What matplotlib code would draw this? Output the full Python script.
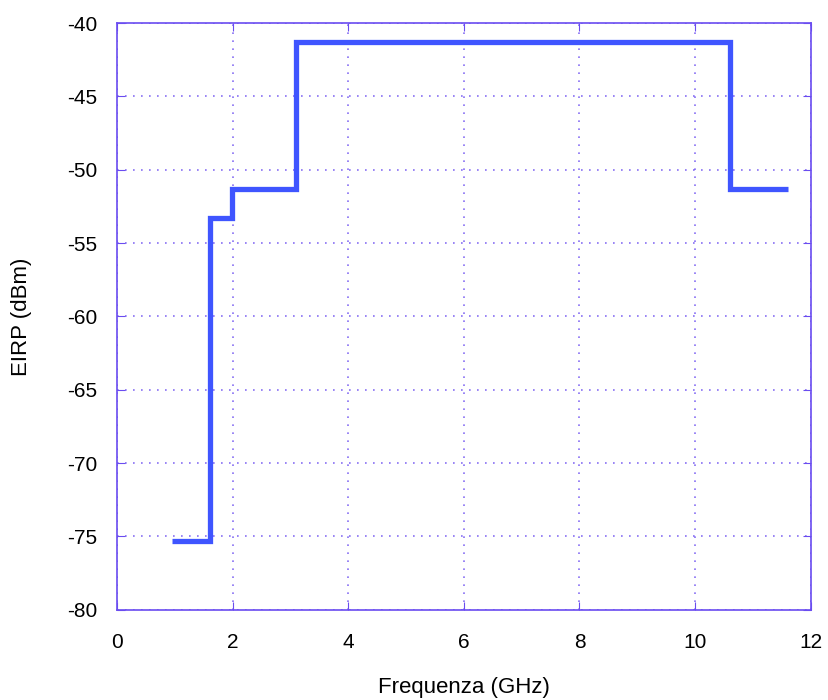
import numpy as np
import matplotlib
matplotlib.use("Agg")
import matplotlib.pyplot as plt

plt.rcParams['font.family'] = ['Liberation Sans', 'DejaVu Sans']
plt.rcParams['axes.unicode_minus'] = False

freq = [0.96, 1.61, 1.99, 3.1, 10.6, 11.6]
eirp = [-75.3, -53.3, -51.3, -41.3, -51.3, -51.3]

grid_col = "#6a4cf0"

fig = plt.figure(figsize=(8.29, 7.0), dpi=100)
ax = fig.add_axes([0.141, 0.129, 0.837, 0.838])
ax.plot(freq, eirp, drawstyle="steps-post", color="#3f55ff", lw=3.8,
        solid_joinstyle="miter", solid_capstyle="butt")
ax.set_xlim(0, 12)
ax.set_ylim(-80, -40)
ax.set_xticks(np.arange(0, 13, 2))
ax.set_yticks(np.arange(-80, -39, 5))
ax.grid(True, color=grid_col, linestyle=(0, (1, 3.8)), lw=1.2, alpha=0.8)
for s in ax.spines.values():
    s.set_color(grid_col)
    s.set_linewidth(1.2)
ax.tick_params(direction="in", color=grid_col, length=6, labelsize=15,
               top=True, right=True)
ax.tick_params(axis="x", pad=17)
ax.tick_params(axis="y", pad=14)
ax.set_xlabel("Frequenza (GHz)", fontsize=16, labelpad=18)
ax.set_ylabel("EIRP (dBm)", fontsize=16, labelpad=25)
fig.savefig("out.png", dpi=100)
